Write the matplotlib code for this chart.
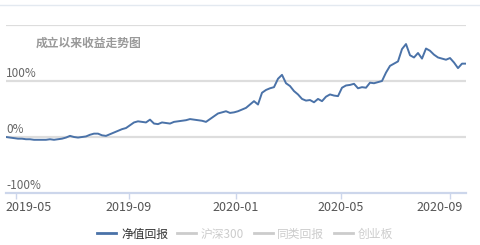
import matplotlib
matplotlib.use("Agg")
import matplotlib.pyplot as plt
from matplotlib.lines import Line2D
from matplotlib.transforms import blended_transform_factory, ScaledTranslation

plt.rcParams["font.family"] = ["Noto Sans CJK SC", "DejaVu Sans"]

# 成立以来收益 (%), sampled at equal steps along the trading-day axis
nav_return = [
    0, -1, -2, -3, -3, -4, -4, -5, -5, -5, -5, -4, -5, -4, -3, -1,
    2, 0, -1, 0, 1, 4, 6, 6, 3, 2, 5, 8, 11, 14, 16, 21,
    26, 28, 27, 26, 31, 24, 23, 26, 25, 24, 27, 28, 29, 30, 32, 31,
    30, 29, 27, 32, 37, 42, 44, 46, 43, 44, 46, 49, 52, 58, 64, 58,
    79, 84, 87, 89, 104, 111, 96, 91, 82, 76, 68, 65, 66, 62, 68, 64,
    72, 76, 74, 73, 88, 92, 93, 95, 87, 89, 88, 97, 96, 98, 100, 115,
    127, 131, 135, 157, 166, 146, 142, 150, 140, 158, 154, 147, 142, 140, 138, 141,
    133, 123, 131, 131,
]
tick_pos = [2.5, 30.75, 57.5, 83.75, 111]
tick_labels = ["2019-05", "2019-09", "2020-01", "2020-05", "2020-09"]
y_grid = [-100, 0, 100, 200]
y_labels = {-100: "-100%", 0: "0%", 100: "100%"}
legend_names = ["净值回报", "沪深300", "同类回报", "创业板"]
legend_active = [True, False, False, False]

BLUE = "#4a72a8"
GRID = "#dddddd"
AXIS = "#ccd6eb"

fig = plt.figure(figsize=(4.81, 2.45), dpi=100)
ax = fig.add_axes([6 / 481, 1 - 193 / 245, 460 / 481, 168 / 245])

x = list(range(len(nav_return)))
ax.plot(x, nav_return, color=BLUE, lw=1.4, solid_joinstyle="round")

ax.set_xlim(0, len(nav_return) - 1)
ax.set_ylim(-100, 200)

for v in y_grid[1:]:
    ax.axhline(v, color=GRID, lw=1.6, zorder=0)

for s in ["top", "right", "left"]:
    ax.spines[s].set_visible(False)
ax.spines["bottom"].set_color(AXIS)
ax.spines["bottom"].set_linewidth(1.6)

ax.set_yticks([])
ax.set_xticks(tick_pos)
ax.set_xticklabels(tick_labels, fontsize=9, color="#555555")
ax.tick_params(axis="x", length=4, color=AXIS, width=1, pad=1.5)

# keep the edge labels inside the plot like the original
lbls = ax.get_xticklabels()
lbls[0].set_ha("left")
lbls[0].set_transform(lbls[0].get_transform()
                      + ScaledTranslation(-11 / 100, 0, fig.dpi_scale_trans))
lbls[-1].set_ha("right")
lbls[-1].set_transform(lbls[-1].get_transform()
                       + ScaledTranslation(13 / 100, 0, fig.dpi_scale_trans))

trans = blended_transform_factory(ax.transAxes, ax.transData)
for v, lab in y_labels.items():
    ax.text(0, v + 2, lab, transform=trans, ha="left", va="bottom",
            fontsize=8.5, color="#666666")

fig.text(36 / 481, 1 - 43 / 245, "成立以来收益走势图", fontsize=8.5,
         fontweight="bold", color="#999999", va="center", ha="left")

# thin border line at top
fig.add_artist(Line2D([0, 1], [1 - 5 / 245, 1 - 5 / 245],
                      transform=fig.transFigure, color="#e3e9f0", lw=1))

handles = [Line2D([], [], color=BLUE if a else "#cccccc", lw=2)
           for a in legend_active]
leg = fig.legend(handles, legend_names, loc="center",
                 bbox_to_anchor=(245 / 481, 1 - 234 / 245), ncol=4,
                 frameon=False, fontsize=8.5, handlelength=1.6,
                 handletextpad=0.4, columnspacing=0.8)
for t, a in zip(leg.get_texts(), legend_active):
    t.set_color("#333333" if a else "#cccccc")

fig.savefig("out.png", dpi=100)
